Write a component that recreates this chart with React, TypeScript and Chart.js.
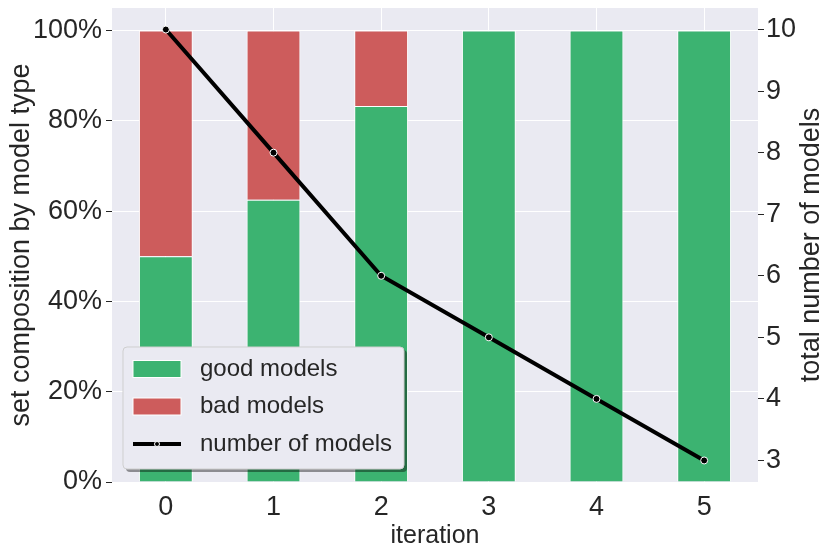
import { useEffect, useRef } from 'react';
import { Chart, registerables, type Plugin } from 'chart.js';

Chart.register(...registerables);

const iterations = ['0', '1', '2', '3', '4', '5'];
const goodModels = [50, 62.5, 83.3, 100, 100, 100];
const badModels = [50, 37.5, 16.7, 0, 0, 0];
const numberOfModels = [10, 8, 6, 5, 4, 3];
const percentTicks = [0, 20, 40, 60, 80, 100];
const countTicks = [3, 4, 5, 6, 7, 8, 9, 10];

const GREEN = '#3cb371';
const RED = '#cd5c5c';
const PANEL = '#eaeaf2';
const INK = '#262626';
const FONT = '"Liberation Sans", Arial, sans-serif';

// seaborn-ish grey panel behind the plot
const panel: Plugin = {
  id: 'panel',
  beforeDraw(chart) {
    const { ctx, chartArea: a } = chart;
    ctx.save();
    ctx.fillStyle = PANEL;
    ctx.fillRect(a.left, a.top, a.right - a.left, a.bottom - a.top);
    ctx.restore();
  },
};

// matplotlib's twinx label reads bottom-to-top, Chart.js draws it the other way
const rightTitle: Plugin = {
  id: 'rightTitle',
  afterDraw(chart) {
    const { ctx, chartArea: a } = chart;
    ctx.save();
    ctx.translate(chart.width - 19, (a.top + a.bottom) / 2);
    ctx.rotate(-Math.PI / 2);
    ctx.font = `27px ${FONT}`;
    ctx.fillStyle = INK;
    ctx.textAlign = 'center';
    ctx.textBaseline = 'middle';
    ctx.fillText('total number of models', 0, 0);
    ctx.restore();
  },
};

// legend box in the lower left corner of the plot, with a drop shadow
const cornerLegend: Plugin = {
  id: 'cornerLegend',
  afterDraw(chart) {
    const { ctx, chartArea: a } = chart;
    const w = 281;
    const h = 122;
    const x = a.left + 11;
    const y = a.bottom - 13 - h;
    ctx.save();
    ctx.fillStyle = 'rgba(0,0,0,0.4)';
    ctx.beginPath();
    ctx.roundRect(x + 3, y + 3, w, h, 4);
    ctx.fill();
    ctx.fillStyle = PANEL;
    ctx.strokeStyle = '#cfcfcf';
    ctx.lineWidth = 1;
    ctx.beginPath();
    ctx.roundRect(x, y, w, h, 4);
    ctx.fill();
    ctx.stroke();

    ctx.font = `24px ${FONT}`;
    ctx.textBaseline = 'middle';
    ctx.textAlign = 'left';
    chart.data.datasets.forEach((ds, i) => {
      const cy = y + 22 + i * 37.5;
      const px = x + 10;
      if (ds.type === 'line') {
        ctx.strokeStyle = '#000';
        ctx.lineWidth = 4;
        ctx.beginPath();
        ctx.moveTo(px, cy);
        ctx.lineTo(px + 48, cy);
        ctx.stroke();
        ctx.fillStyle = '#000';
        ctx.strokeStyle = '#fff';
        ctx.lineWidth = 1;
        ctx.beginPath();
        ctx.arc(px + 24, cy, 2.5, 0, Math.PI * 2);
        ctx.fill();
        ctx.stroke();
      } else {
        ctx.fillStyle = ds.backgroundColor as string;
        ctx.strokeStyle = '#fff';
        ctx.lineWidth = 1;
        ctx.fillRect(px, cy - 8.5, 48, 17);
        ctx.strokeRect(px, cy - 8.5, 48, 17);
      }
      ctx.fillStyle = INK;
      ctx.fillText(ds.label ?? '', x + 77, cy);
    });
    ctx.restore();
  },
};

export default function App() {
  const canvasRef = useRef<HTMLCanvasElement>(null);

  useEffect(() => {
    document.body.style.margin = '0';
    if (!canvasRef.current) return;

    const tickFont = { family: FONT, size: 27 };

    const chart = new Chart(canvasRef.current, {
      type: 'bar',
      data: {
        labels: iterations,
        datasets: [
          {
            type: 'bar',
            label: 'good models',
            data: goodModels,
            backgroundColor: GREEN,
            borderColor: '#fff',
            borderWidth: (c: any) => (c.raw ? 1 : 0),
            yAxisID: 'y',
            stack: 'share',
            order: 1,
            categoryPercentage: 1,
            barPercentage: 0.5,
          },
          {
            type: 'bar',
            label: 'bad models',
            data: badModels,
            backgroundColor: RED,
            borderColor: '#fff',
            borderWidth: (c: any) => (c.raw ? 1 : 0),
            yAxisID: 'y',
            stack: 'share',
            order: 1,
            categoryPercentage: 1,
            barPercentage: 0.5,
          },
          {
            type: 'line',
            label: 'number of models',
            data: numberOfModels,
            yAxisID: 'y1',
            borderColor: '#000',
            borderWidth: 4,
            pointRadius: 3.5,
            pointBackgroundColor: '#000',
            pointBorderColor: '#fff',
            pointBorderWidth: 1,
            tension: 0,
            order: 0,
          },
        ] as any,
      },
      options: {
        responsive: false,
        animation: false,
        events: [],
        layout: { padding: { top: 8, left: 0, right: 0, bottom: 0 } },
        plugins: { legend: { display: false }, tooltip: { enabled: false } },
        scales: {
          x: {
            stacked: true,
            offset: true,
            grid: { color: '#fff', lineWidth: 1, offset: false, drawTicks: false },
            border: { display: false },
            ticks: { color: INK, font: tickFont, padding: 9 },
            title: {
              display: true,
              text: 'iteration',
              color: INK,
              font: { family: FONT, size: 25 },
              padding: { top: 0, bottom: 6 },
            },
            afterFit: (s: any) => {
              s.height = 75;
              s.paddingLeft = 0;
              s.paddingRight = 0;
            },
          },
          y: {
            stacked: true,
            position: 'left',
            min: 0,
            max: 105,
            afterBuildTicks: (s: any) => {
              s.ticks = percentTicks.map((value) => ({ value }));
            },
            grid: { color: '#fff', lineWidth: 1, tickColor: INK, tickLength: 6 },
            border: { display: false },
            ticks: {
              color: INK,
              font: tickFont,
              padding: 4,
              autoSkip: false,
              callback: (v) => `${v}%`,
            },
            title: {
              display: true,
              text: 'set composition by model type',
              color: INK,
              font: { family: FONT, size: 27 },
              padding: { top: 5, bottom: 0 },
            },
            afterFit: (s: any) => {
              s.width = 112;
              s.paddingTop = 0;
              s.paddingBottom = 0;
            },
          },
          y1: {
            position: 'right',
            min: 2.65,
            max: 10.35,
            afterBuildTicks: (s: any) => {
              s.ticks = countTicks.map((value) => ({ value }));
            },
            grid: { drawOnChartArea: false, tickColor: INK, tickLength: 6 },
            border: { display: false },
            ticks: { color: INK, font: tickFont, padding: 2, autoSkip: false },
            afterFit: (s: any) => {
              s.width = 73;
              s.paddingTop = 0;
              s.paddingBottom = 0;
            },
          },
        },
      },
      plugins: [panel, cornerLegend, rightTitle],
    });

    return () => {
      chart.destroy();
    };
  }, []);

  return (
    <div style={{ width: 831, height: 557 }}>
      <canvas ref={canvasRef} width={831} height={557} style={{ display: 'block' }} />
    </div>
  );
}
